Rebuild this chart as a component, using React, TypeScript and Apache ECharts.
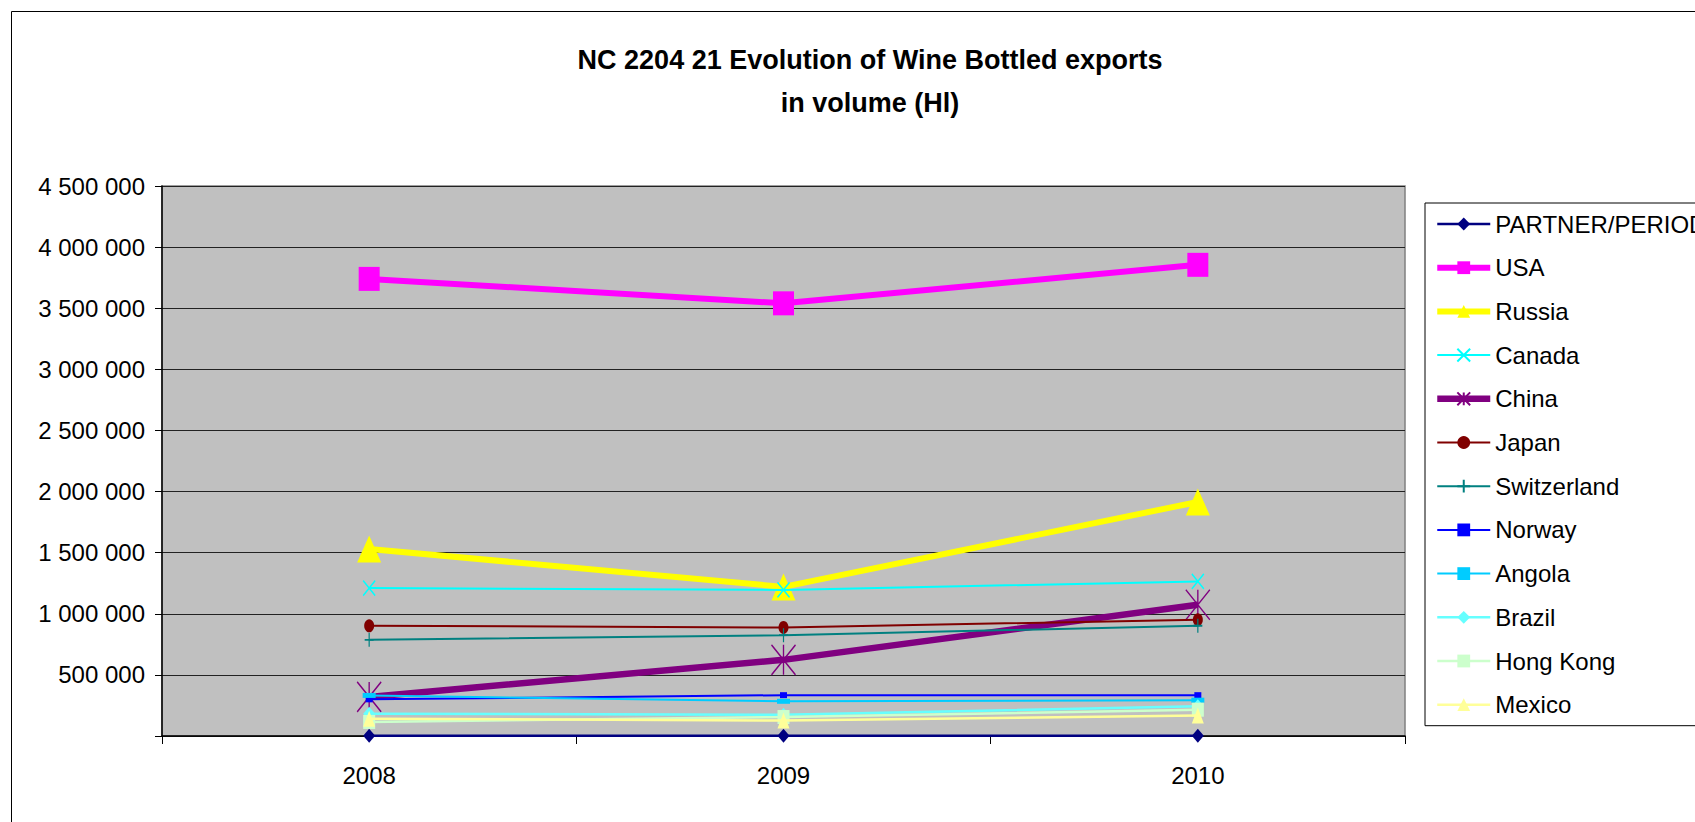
import React, { useEffect, useRef } from "react";
import * as echarts from "echarts";

const years = ["2008", "2009", "2010"];
const seriesNames = ["PARTNER/PERIOD", "USA", "Russia", "Canada", "China", "Japan", "Switzerland", "Norway", "Angola", "Brazil", "Hong Kong", "Mexico"];
const partnerPeriod = [2008, 2009, 2010];
const usa = [3740000, 3540000, 3855000];
const russia = [1530000, 1220000, 1915000];
const canada = [1210000, 1195000, 1265000];
const china = [320000, 623000, 1074000];
const japan = [902000, 888000, 951000];
const switzerland = [787000, 825000, 902000];
const norway = [300000, 334000, 334000];
const angola = [332000, 284000, 293000];
const brazil = [182000, 174000, 243000];
const hongKong = [115000, 155000, 215000];
const mexico = [141000, 127000, 168000];
const yTicks = [0, 500000, 1000000, 1500000, 2000000, 2500000, 3000000, 3500000, 4000000, 4500000];

const FONT = 'Arial, "Liberation Sans", sans-serif';

const X_PATH = "path://M0,0L10,10M10,0L0,10";
const AST_PATH = "path://M5,0L5,10M0,0L10,10M10,0L0,10";
const PLUS_PATH = "path://M5,0L5,10M0,5L10,5";

type Style = { color: string; symbol: string; size: number[]; width: number; stroke?: number };
const styles: Style[] = [
  { color: "#000080", symbol: "diamond", size: [12, 14], width: 2.5 },
  { color: "#FF00FF", symbol: "rect", size: [21, 24], width: 6 },
  { color: "#FFFF00", symbol: "triangle", size: [24, 27], width: 6 },
  { color: "#00FFFF", symbol: X_PATH, size: [12, 15], width: 2, stroke: 1.5 },
  { color: "#800080", symbol: AST_PATH, size: [24, 30], width: 6.5, stroke: 1.5 },
  { color: "#800000", symbol: "circle", size: [10, 13], width: 2 },
  { color: "#008080", symbol: PLUS_PATH, size: [9, 14], width: 2, stroke: 1.5 },
  { color: "#0000FF", symbol: "rect", size: [7, 6], width: 2 },
  { color: "#00CCFF", symbol: "rect", size: [13, 5], width: 2 },
  { color: "#66FFFF", symbol: "diamond", size: [12, 14], width: 2.5 },
  { color: "#CCFFCC", symbol: "rect", size: [12, 14], width: 2.5 },
  { color: "#FFFF99", symbol: "triangle", size: [12, 16], width: 2.5 },
];
const seriesData = [partnerPeriod, usa, russia, canada, china, japan, switzerland, norway, angola, brazil, hongKong, mexico];

function fmt(v: number): string {
  if (v === 0) return "";
  return String(v).replace(/\B(?=(\d{3})+(?!\d))/g, " ");
}

export default function App() {
  const ref = useRef<HTMLDivElement>(null);
  useEffect(() => {
    if (!ref.current) return;
    const chart = echarts.init(ref.current, undefined, { renderer: "svg" });
    const series = seriesNames.map((name, i) => {
      const s = styles[i];
      return {
        name,
        type: "line",
        data: seriesData[i],
        symbol: s.symbol,
        symbolSize: s.size,
        showAllSymbol: true,
        lineStyle: { color: s.color, width: s.width },
        itemStyle: {
          color: s.color,
          borderColor: s.color,
          borderWidth: s.stroke ? s.stroke : 0,
          opacity: 1,
        },
        emphasis: { disabled: true },
        z: 2 + i,
      };
    });
    chart.setOption({
      animation: false,
      backgroundColor: "#ffffff",
      textStyle: { fontFamily: FONT },
      title: {
        text: "NC 2204 21 Evolution of Wine Bottled exports\nin volume (Hl)",
        left: 865,
        top: 33,
        textAlign: "center",
        textStyle: { fontFamily: FONT, fontSize: 27, fontWeight: "bold", color: "#000", lineHeight: 43.5 },
      },
      graphic: [
        {
          type: "rect",
          shape: { x: 11.5, y: 11.5, width: 1800, height: 900 },
          style: { fill: "none", stroke: "#000", lineWidth: 1 },
          silent: true,
          z: 0,
        },
      ],
      grid: {
        left: 162,
        top: 186,
        width: 1243,
        height: 550,
        show: true,
        backgroundColor: "#C0C0C0",
        borderColor: "#808080",
        borderWidth: 1.5,
      },
      legend: {
        orient: "vertical",
        left: 1425,
        top: 203,
        padding: 9,
        itemWidth: 53,
        itemHeight: 16,
        itemGap: 19.7,
        borderColor: "#000",
        borderWidth: 1,
        backgroundColor: "#fff",
        selectedMode: false,
        data: seriesNames.map((n, i) => ({
          name: n,
          lineStyle: { color: styles[i].color, width: styles[i].width },
        })),
        textStyle: { fontFamily: FONT, fontSize: 24, color: "#000", lineHeight: 24 },
      },
      xAxis: {
        type: "category",
        data: years,
        boundaryGap: true,
        axisLine: { show: true, lineStyle: { color: "#000", width: 1.5 } },
        axisTick: { show: true, length: 8, inside: false, interval: 0, lineStyle: { color: "#000" } },
        axisLabel: { fontFamily: FONT, fontSize: 24, color: "#000", margin: 27 },
        splitLine: { show: false },
      },
      yAxis: {
        type: "value",
        min: yTicks[0],
        max: yTicks[yTicks.length - 1],
        interval: yTicks[1] - yTicks[0],
        axisLine: { show: true, lineStyle: { color: "#000", width: 1.5 } },
        axisTick: { show: true, length: 7, inside: false, lineStyle: { color: "#000" } },
        axisLabel: { fontFamily: FONT, fontSize: 24, color: "#000", margin: 17, formatter: fmt },
        splitLine: { show: true, lineStyle: { color: "#222", width: 1.2 } },
      },
      series,
    });
    return () => chart.dispose();
  }, []);
  return (
    <div
      ref={ref}
      style={{ position: "fixed", left: 0, top: 0, width: 1695, height: 822 }}
    />
  );
}
